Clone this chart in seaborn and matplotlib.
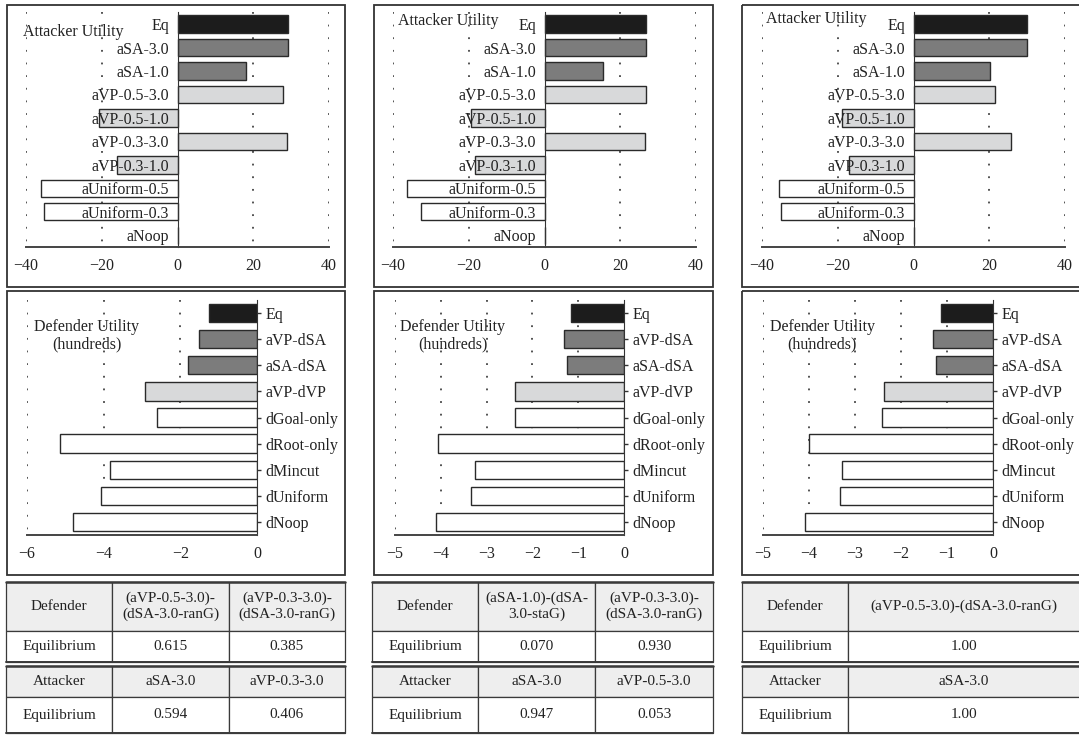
import matplotlib
matplotlib.use("Agg")
import matplotlib.pyplot as plt
import seaborn as sns
from matplotlib.patches import Rectangle

# ================= DATA =================

att_labels = ["Eq", "aSA-3.0", "aSA-1.0", "aVP-0.5-3.0", "aVP-0.5-1.0",
              "aVP-0.3-3.0", "aVP-0.3-1.0", "aUniform-0.5", "aUniform-0.3", "aNoop"]
att_vals_1 = [29.3, 29.1, 18.2, 27.8, -20.6, 29.0, -16.1, -36.1, -35.3, 0]
att_vals_2 = [26.9, 26.8, 15.5, 26.8, -19.3, 26.5, -18.4, -36.4, -32.7, 0]
att_vals_3 = [30.0, 29.9, 20.3, 21.5, -18.8, 25.8, -16.9, -35.6, -34.9, 0]

def_labels = ["Eq", "aVP-dSA", "aSA-dSA", "aVP-dVP", "dGoal-only",
              "dRoot-only", "dMincut", "dUniform", "dNoop"]
def_vals_1 = [-1.26, -1.52, -1.80, -2.91, -2.62, -5.13, -3.83, -4.07, -4.80]
def_vals_2 = [-1.15, -1.31, -1.24, -2.38, -2.39, -4.07, -3.26, -3.35, -4.11]
def_vals_3 = [-1.13, -1.31, -1.24, -2.37, -2.41, -3.99, -3.29, -3.32, -4.09]

def_xmin = [-6, -5, -5]
def_step = [2, 1, 1]

# table contents
def_heads = [["(aVP-0.5-3.0)-\n(dSA-3.0-ranG)", "(aVP-0.3-3.0)-\n(dSA-3.0-ranG)"],
             ["(aSA-1.0)-(dSA-\n3.0-staG)", "(aVP-0.3-3.0)-\n(dSA-3.0-ranG)"],
             ["(aVP-0.5-3.0)-(dSA-3.0-ranG)"]]
def_eq = [["0.615", "0.385"], ["0.070", "0.930"], ["1.00"]]
att_heads = [["aSA-3.0", "aVP-0.3-3.0"], ["aSA-3.0", "aVP-0.5-3.0"], ["aSA-3.0"]]
att_eq = [["0.594", "0.406"], ["0.947", "0.053"], ["1.00"]]

# ================= STYLE =================

BLACK = "#1c1c1c"
GRAY = "#7c7c7c"
LIGHT = "#d8d9da"
WHITE = "#ffffff"
att_colors = [BLACK, GRAY, GRAY, LIGHT, LIGHT, LIGHT, LIGHT, WHITE, WHITE, WHITE]
def_colors = [BLACK, GRAY, GRAY, LIGHT, WHITE, WHITE, WHITE, WHITE, WHITE]

sns.set_style("white")
plt.rcParams["font.family"] = ["Liberation Serif", "DejaVu Serif"]
plt.rcParams["axes.unicode_minus"] = True
plt.rcParams["axes.axisbelow"] = False
FS = 11.5
TXT = "#222222"

W, H = 1079, 735
fig = plt.figure(figsize=(W / 100, H / 100), dpi=100)


def px_axes(x0, y0, x1, y1, **kw):
    return fig.add_axes([x0 / W, 1 - y1 / H, (x1 - x0) / W, (y1 - y0) / H], **kw)


# overlay for frames and tables (pixel coordinates)
over = px_axes(0, 0, W, H, zorder=0)
over.set_xlim(0, W)
over.set_ylim(H, 0)
over.axis("off")

col_x = [(7, 345), (374, 713), (742, 1090)]
for x0, x1 in col_x:
    over.add_patch(Rectangle((x0, 5), x1 - x0, 282, fill=False, lw=1.3, ec="#333333"))
    over.add_patch(Rectangle((x0, 291), x1 - x0, 284, fill=False, lw=1.3, ec="#333333"))


def style_grid(ax, ticks, ymax):
    for t in ticks:
        ax.plot([t, t], [-0.5, ymax], color="#444444", lw=1.3,
                linestyle=(0, (1, 6)), zorder=0.5)


# ---------- attacker panels ----------
att_ax_x = [(26, 329), (393, 696), (762, 1065)]
att_title_pos = [(-0.01, 0.915), (0.017, 0.963), (0.013, 0.97)]
for i, vals in enumerate([att_vals_1, att_vals_2, att_vals_3]):
    x0, x1 = att_ax_x[i]
    ax = px_axes(x0, 12.3, x1, 247, zorder=2)
    ax.patch.set_alpha(0)
    sns.barplot(x=vals, y=att_labels, hue=att_labels, palette=att_colors,
                legend=False, orient="h", width=0.74, edgecolor="#2a2a2a",
                linewidth=1.0, ax=ax, zorder=2)
    ax.set_xlim(-40, 40)
    ax.set_ylim(len(att_labels) - 0.5, -0.5)
    style_grid(ax, [-40, -20, 20, 40], len(att_labels) - 0.5)
    ax.set_xticks([-40, -20, 0, 20, 40])
    for s in ["top", "right"]:
        ax.spines[s].set_visible(False)
    ax.spines["left"].set_position(("data", 0))
    ax.spines["left"].set_color("#333333")
    ax.spines["bottom"].set_color("#444444")
    ax.spines["bottom"].set_linewidth(1.4)
    ax.tick_params(axis="y", direction="out", length=3, width=1, color="#333333",
                   labelsize=FS, labelcolor=TXT, pad=3)
    ax.tick_params(axis="x", direction="in", length=4, width=1, color="#444444",
                   labelsize=FS, labelcolor=TXT, pad=8)
    ax.set_xlabel("")
    ax.set_ylabel("")
    tx, ty = att_title_pos[i]
    ax.text(tx, ty, "Attacker Utility", transform=ax.transAxes, fontsize=FS,
            color=TXT, ha="left", va="center", zorder=5)

# ---------- defender panels ----------
def_ax_x = [(27, 257), (395, 624), (763, 993)]
def_title_x = [0.26, 0.253, 0.257]
for i, vals in enumerate([def_vals_1, def_vals_2, def_vals_3]):
    x0, x1 = def_ax_x[i]
    ax = px_axes(x0, 300, x1, 535, zorder=2)
    ax.patch.set_alpha(0)
    sns.barplot(x=vals, y=def_labels, hue=def_labels, palette=def_colors,
                legend=False, orient="h", width=0.70, edgecolor="#2a2a2a",
                linewidth=1.0, ax=ax, zorder=2)
    lo, st = def_xmin[i], def_step[i]
    ax.set_xlim(lo, 0)
    ax.set_ylim(len(def_labels) - 0.5, -0.5)
    ticks = list(range(lo, 1, st))
    style_grid(ax, ticks[:-1], len(def_labels) - 0.5)
    ax.set_xticks(ticks)
    ax.yaxis.tick_right()
    for s in ["top", "left"]:
        ax.spines[s].set_visible(False)
    ax.spines["right"].set_color("#333333")
    ax.spines["bottom"].set_color("#444444")
    ax.spines["bottom"].set_linewidth(1.4)
    ax.tick_params(axis="y", direction="out", length=3, width=1, color="#333333",
                   labelsize=FS, labelcolor=TXT, pad=3)
    ax.tick_params(axis="x", direction="in", length=4, width=1, color="#444444",
                   labelsize=FS, labelcolor=TXT, pad=8)
    ax.set_xlabel("")
    ax.set_ylabel("")
    ax.text(def_title_x[i], 0.847, "Defender Utility\n(hundreds)", transform=ax.transAxes,
            fontsize=FS, color=TXT, ha="center", va="center", linespacing=1.15, zorder=5)

# ---------- tables ----------
tab_cols = [[6, 112, 229, 345], [372, 478, 595, 713], [742, 848, 1090]]
row_y = [(582, 631), (631, 662), (666, 697), (697, 733)]
HEAD = "#eeeeee"
LINE = "#3a3a3a"
TFS = 11


def cell(x0, x1, y0, y1, text, fill):
    over.add_patch(Rectangle((x0, y0), x1 - x0, y1 - y0, facecolor=fill,
                             edgecolor=LINE, lw=0.9))
    over.text((x0 + min(x1, W)) / 2, (y0 + y1) / 2, text, ha="center", va="center",
              fontsize=TFS, color=TXT, linespacing=1.25)


for i in range(3):
    xs = tab_cols[i]
    rows = [("Defender", def_heads[i], HEAD), ("Equilibrium", def_eq[i], WHITE),
            ("Attacker", att_heads[i], HEAD), ("Equilibrium", att_eq[i], WHITE)]
    for (y0, y1), (first, rest, fill) in zip(row_y, rows):
        cell(xs[0], xs[1], y0, y1, first, fill)
        for j, t in enumerate(rest):
            cell(xs[j + 1], xs[j + 2], y0, y1, t, fill)
    # heavier top edges for each sub-table
    for y in (582, 666):
        over.plot([xs[0], xs[-1]], [y, y], color=LINE, lw=1.8)
    for y in (662, 733):
        over.plot([xs[0], xs[-1]], [y, y], color=LINE, lw=1.4)

fig.savefig("out.png", dpi=100)
